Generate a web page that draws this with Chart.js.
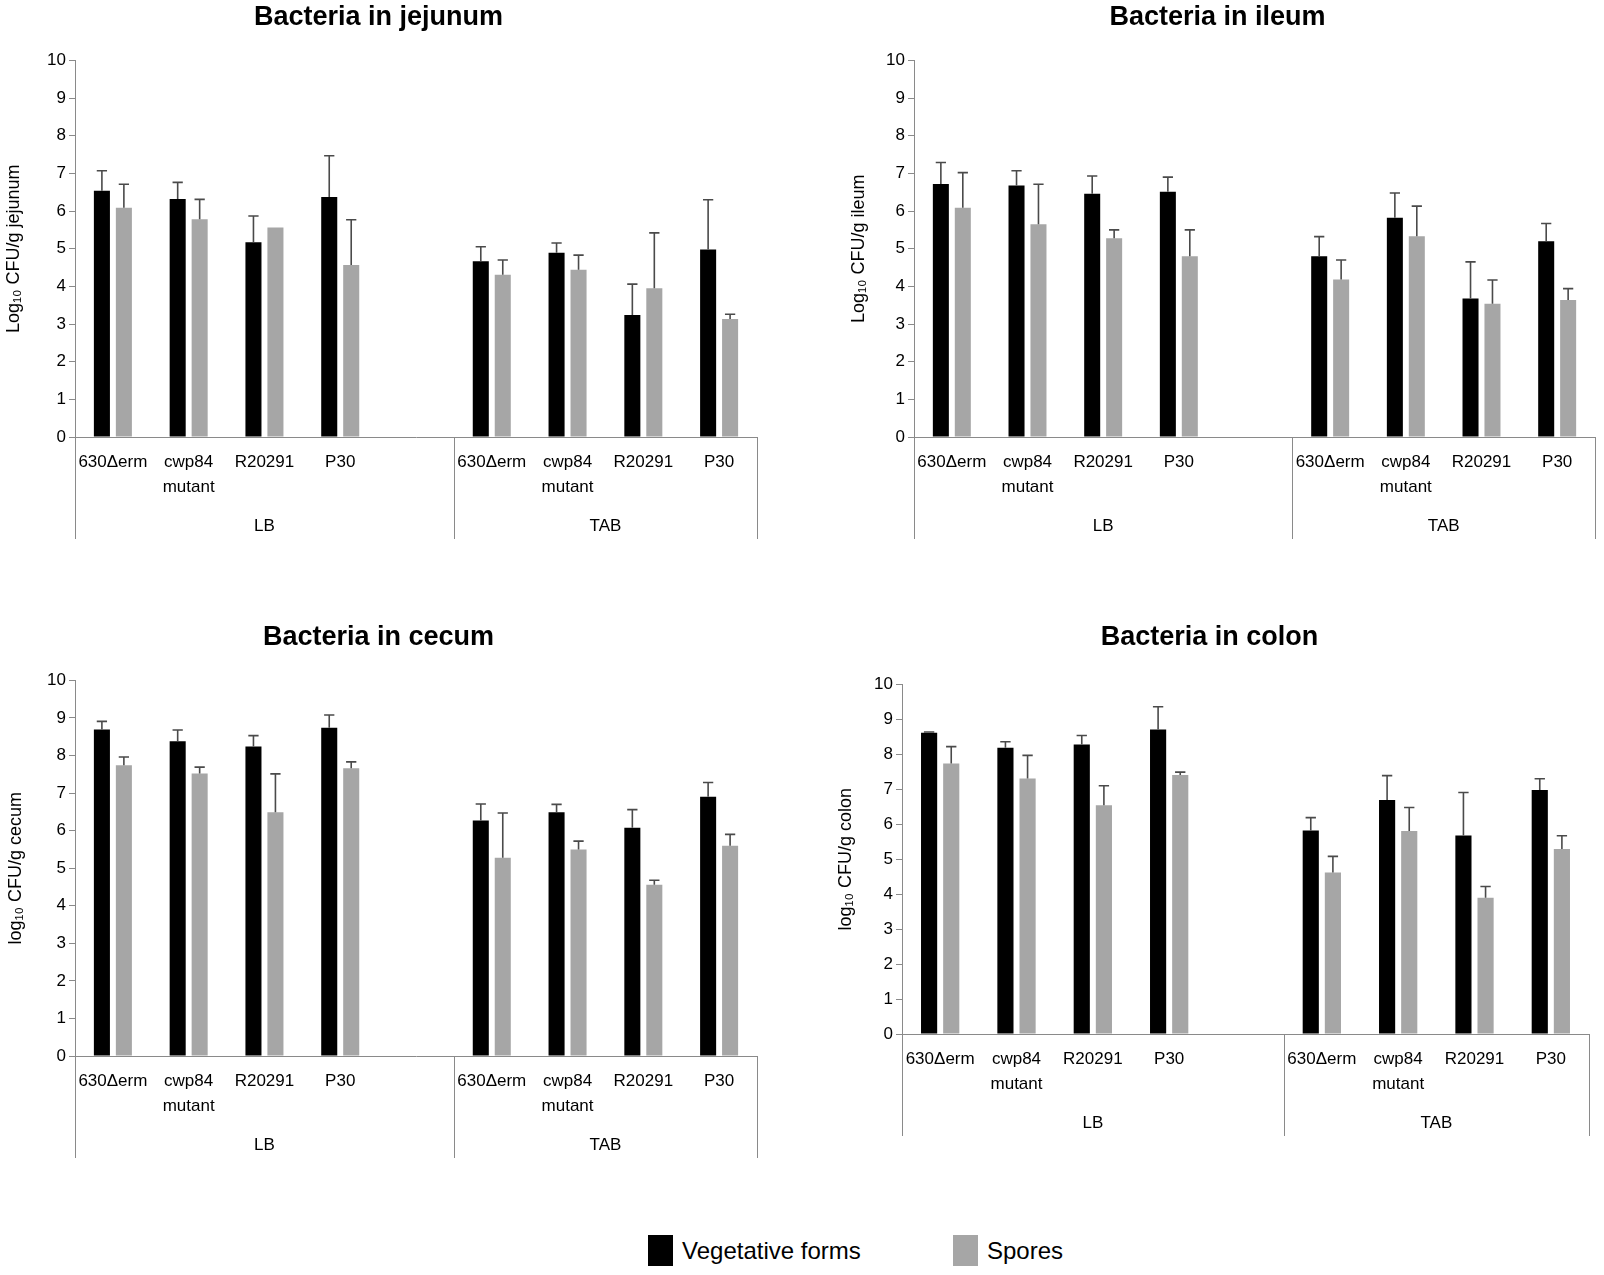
<!DOCTYPE html>
<html>
<head>
<meta charset="utf-8">
<script src="https://cdn.jsdelivr.net/npm/chart.js@4.4.1/dist/chart.umd.min.js"></script>
<style>
  html, body { margin: 0; padding: 0; background: #fff; }
  body { width: 1604px; height: 1275px; overflow: hidden; position: relative; font-family: "Liberation Sans", Arial, sans-serif; }
  .box { position: absolute; }
  .legend { position: absolute; top: 1235px; height: 31px; display: flex; align-items: center; font-size: 24px; color: #000; }
  .sw { width: 25px; height: 31px; margin-right: 9px; }
</style>
</head>
<body>
<div class="box" id="b1" style="left:0px;top:0px;width:758px;height:545px"><canvas id="c1"></canvas></div>
<div class="box" id="b2" style="left:840px;top:0px;width:756px;height:545px"><canvas id="c2"></canvas></div>
<div class="box" id="b3" style="left:0px;top:620px;width:758px;height:544px"><canvas id="c3"></canvas></div>
<div class="box" id="b4" style="left:830px;top:620px;width:774px;height:522px"><canvas id="c4"></canvas></div>
<div class="legend" style="left:648px"><div class="sw" style="background:#000"></div><span id="lg0"></span></div>
<div class="legend" style="left:953px"><div class="sw" style="background:#a6a6a6"></div><span id="lg1"></span></div>
<script>
// ---- data ----
const categories = ['630Δerm', ['cwp84', 'mutant'], 'R20291', 'P30', '', '630Δerm', ['cwp84', 'mutant'], 'R20291', 'P30'];
const groupLabels = ['LB', 'TAB'];
const groupSizes = [5, 4];
const seriesNames = ['Vegetative forms', 'Spores'];
const yMin = 0, yMax = 10, yStep = 1;

const chartTitles = ['Bacteria in jejunum', 'Bacteria in ileum', 'Bacteria in cecum', 'Bacteria in colon'];
const yTitles = ['Log₁₀ CFU/g jejunum', 'Log₁₀ CFU/g ileum', 'log₁₀ CFU/g cecum', 'log₁₀ CFU/g colon'];

const jejunumVeg    = [6.54, 6.32, 5.17, 6.37, null, 4.67, 4.89, 3.24, 4.98];
const jejunumVegErr = [0.53, 0.44, 0.70, 1.10, null, 0.38, 0.26, 0.82, 1.32];
const jejunumSpo    = [6.09, 5.78, 5.56, 4.57, null, 4.31, 4.44, 3.95, 3.13];
const jejunumSpoErr = [0.62, 0.53, 0, 1.20, null, 0.39, 0.39, 1.47, 0.13];

const ileumVeg    = [6.72, 6.68, 6.46, 6.51, null, 4.80, 5.82, 3.68, 5.20];
const ileumVegErr = [0.57, 0.39, 0.47, 0.39, null, 0.52, 0.66, 0.97, 0.47];
const ileumSpo    = [6.09, 5.65, 5.28, 4.80, null, 4.18, 5.33, 3.54, 3.64];
const ileumSpoErr = [0.93, 1.06, 0.22, 0.70, null, 0.52, 0.80, 0.63, 0.30];

const cecumVeg    = [8.69, 8.38, 8.24, 8.74, null, 6.27, 6.49, 6.08, 6.90];
const cecumVegErr = [0.22, 0.30, 0.29, 0.34, null, 0.44, 0.21, 0.48, 0.38];
const cecumSpo    = [7.74, 7.52, 6.49, 7.66, null, 5.28, 5.50, 4.56, 5.60];
const cecumSpoErr = [0.22, 0.17, 1.02, 0.17, null, 1.19, 0.22, 0.12, 0.30];

const colonVeg    = [8.62, 8.19, 8.28, 8.71, null, 5.82, 6.69, 5.68, 6.98];
const colonVegErr = [0.02, 0.17, 0.26, 0.65, null, 0.37, 0.70, 1.23, 0.32];
const colonSpo    = [7.74, 7.31, 6.54, 7.41, null, 4.62, 5.81, 3.90, 5.29];
const colonSpoErr = [0.48, 0.66, 0.56, 0.08, null, 0.46, 0.67, 0.32, 0.38];

// ---- styles ----
const FONT = '"Liberation Sans", Arial, "DejaVu Sans", sans-serif';
const AXIS_COLOR = '#8a8a8a';
const VEG_COLOR = '#000000';
const SPO_COLOR = '#a6a6a6';
const ERR_COLOR = '#4a4a4a';

document.getElementById('lg0').textContent = seriesNames[0];
document.getElementById('lg1').textContent = seriesNames[1];

const errorBarPlugin = {
  id: 'errorBars',
  afterDatasetsDraw(chart) {
    const y = chart.scales.y, ctx = chart.ctx;
    ctx.save();
    ctx.strokeStyle = ERR_COLOR;
    ctx.lineWidth = 1.6;
    chart.data.datasets.forEach((ds, di) => {
      const meta = chart.getDatasetMeta(di);
      meta.data.forEach((bar, i) => {
        const v = ds.data[i], e = ds.errors[i];
        if (v == null || !e) return;
        const yTop = y.getPixelForValue(v + e);
        const capHalf = bar.width * 0.32;
        ctx.beginPath();
        ctx.moveTo(bar.x, bar.y);
        ctx.lineTo(bar.x, yTop);
        ctx.moveTo(bar.x - capHalf, yTop);
        ctx.lineTo(bar.x + capHalf, yTop);
        ctx.stroke();
      });
    });
    ctx.restore();
  }
};

const groupAxisPlugin = {
  id: 'groupAxis',
  afterDraw(chart) {
    const x = chart.scales.x, ctx = chart.ctx;
    const half = (x.getPixelForTick(1) - x.getPixelForTick(0)) / 2;
    const depth = 102, labelOffset = 89;
    const edges = [x.getPixelForTick(0) - half];
    let idx = 0;
    groupSizes.forEach(sz => { idx += sz; edges.push(x.getPixelForTick(idx - 1) + half); });
    ctx.save();
    ctx.strokeStyle = AXIS_COLOR;
    ctx.lineWidth = 1;
    edges.forEach(e => {
      const px = Math.round(e) + 0.5;
      ctx.beginPath();
      ctx.moveTo(px, x.top);
      ctx.lineTo(px, x.top + depth);
      ctx.stroke();
    });
    ctx.fillStyle = '#000';
    ctx.font = '17px ' + FONT;
    ctx.textAlign = 'center';
    ctx.textBaseline = 'middle';
    groupLabels.forEach((g, i) => ctx.fillText(g, (edges[i] + edges[i + 1]) / 2, x.top + labelOffset));
    ctx.restore();
  }
};

function makeChart(id, title, yTitle, veg, vegErr, spo, spoErr, layout) {
  return new Chart(document.getElementById(id), {
    type: 'bar',
    data: {
      labels: categories,
      datasets: [
        { label: seriesNames[0], data: veg, errors: vegErr, backgroundColor: VEG_COLOR, borderWidth: 0,
          categoryPercentage: 0.58, barPercentage: 0.73 },
        { label: seriesNames[1], data: spo, errors: spoErr, backgroundColor: SPO_COLOR, borderWidth: 0,
          categoryPercentage: 0.58, barPercentage: 0.73 }
      ]
    },
    options: {
      responsive: true,
      maintainAspectRatio: false,
      animation: false,
      layout: { padding: { left: 0, right: layout.right, top: 0, bottom: 0 } },
      plugins: {
        legend: { display: false },
        tooltip: { enabled: false },
        title: {
          display: true, text: title, color: '#000',
          font: { family: FONT, size: 27, weight: 'bold', lineHeight: 1.2 },
          padding: { top: 1, bottom: layout.titleBottom }
        }
      },
      scales: {
        x: {
          grid: { display: false },
          border: { display: true, color: AXIS_COLOR, width: 1 },
          ticks: { autoSkip: false, maxRotation: 0, minRotation: 0, padding: 5, color: '#000',
                   font: { family: FONT, size: 17, lineHeight: 1.45 } },
          afterFit(scale) { scale.height = 108; }
        },
        y: {
          min: yMin, max: yMax,
          border: { display: true, color: AXIS_COLOR, width: 1 },
          grid: { drawOnChartArea: false, drawTicks: true, tickLength: 6, color: AXIS_COLOR },
          ticks: { stepSize: yStep, padding: 3, color: '#000', font: { family: FONT, size: 17 } },
          title: { display: true, text: yTitle, color: '#000', padding: { top: layout.yTitlePad, bottom: 0 },
                   font: { family: FONT, size: 18 } },
          afterFit(scale) { scale.width = layout.yWidth; }
        }
      }
    },
    plugins: [errorBarPlugin, groupAxisPlugin]
  });
}

makeChart('c1', chartTitles[0], yTitles[0], jejunumVeg, jejunumVegErr, jejunumSpo, jejunumSpoErr,
  { right: 1, titleBottom: 27, yTitlePad: 3, yWidth: 75 });
makeChart('c2', chartTitles[1], yTitles[1], ileumVeg, ileumVegErr, ileumSpo, ileumSpoErr,
  { right: 1, titleBottom: 27, yTitlePad: 8, yWidth: 74 });
makeChart('c3', chartTitles[2], yTitles[2], cecumVeg, cecumVegErr, cecumSpo, cecumSpoErr,
  { right: 1, titleBottom: 27, yTitlePad: 5, yWidth: 75 });
makeChart('c4', chartTitles[3], yTitles[3], colonVeg, colonVegErr, colonSpo, colonSpoErr,
  { right: 15, titleBottom: 31, yTitlePad: 5, yWidth: 72 });
</script>
</body>
</html>
